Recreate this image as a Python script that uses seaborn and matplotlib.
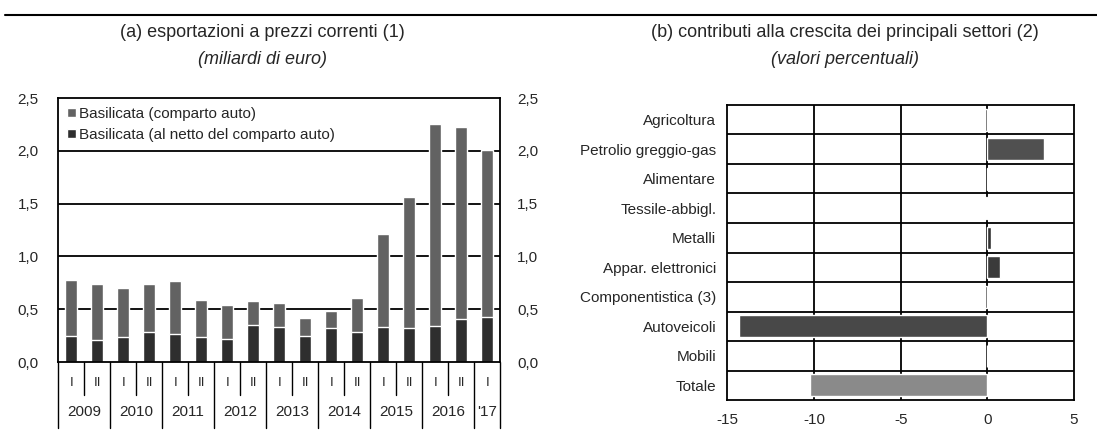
import pandas as pd
import matplotlib.pyplot as plt
import seaborn as sns

# dati pannello (a): miliardi di euro per semestre
semestri = ['I', 'II', 'I', 'II', 'I', 'II', 'I', 'II', 'I', 'II', 'I', 'II',
            'I', 'II', 'I', 'II', 'I']
anni = ['2009', '2010', '2011', '2012', '2013', '2014', '2015', '2016', "'17"]
netto_auto = [0.25, 0.21, 0.24, 0.28, 0.27, 0.24, 0.22, 0.35, 0.33, 0.25,
              0.32, 0.28, 0.33, 0.32, 0.34, 0.41, 0.43]
comparto_auto = [0.53, 0.53, 0.46, 0.46, 0.50, 0.35, 0.32, 0.23, 0.23, 0.17,
                 0.16, 0.33, 0.88, 1.24, 1.91, 1.82, 1.58]

# dati pannello (b): valori percentuali
settori = ['Agricoltura', 'Petrolio greggio-gas', 'Alimentare', 'Tessile-abbigl.',
           'Metalli', 'Appar. elettronici', 'Componentistica (3)', 'Autoveicoli',
           'Mobili', 'Totale']
contributi = [-0.12, 3.3, 0.05, -0.06, 0.22, 0.75, -0.12, -14.3, 0.0, -10.25]

sns.set_style('white')
plt.rcParams['font.family'] = ['Liberation Sans', 'DejaVu Sans']

fig = plt.figure(figsize=(10.97, 4.32), dpi=100)

# ---- pannello (a)
df = pd.DataFrame({'pos': [str(i) for i in range(len(semestri))],
                   'netto': netto_auto, 'auto': comparto_auto})
df['totale'] = df['netto'] + df['auto']

ax1 = fig.add_axes([0.053, 0.162, 0.403, 0.611])
sns.barplot(data=df, x='pos', y='totale', color='#626262', saturation=1,
            width=0.48, ax=ax1, label='Basilicata (comparto auto)')
sns.barplot(data=df, x='pos', y='netto', color='#2e2e2e', saturation=1,
            width=0.48, ax=ax1, label='Basilicata (al netto del comparto auto)')
ax1.set_xlim(-0.5, len(semestri) - 0.5)
ax1.set_ylim(0, 2.5)
ax1.set_yticks([0, 0.5, 1.0, 1.5, 2.0, 2.5])
ax1.set_yticklabels(['0,0', '0,5', '1,0', '1,5', '2,0', '2,5'], fontsize=11)
ax1.set_xticks([])
ax1.set_xlabel('')
ax1.set_ylabel('')
for y in [0.5, 1.0, 1.5, 2.0]:
    ax1.axhline(y, color='black', lw=1.3, zorder=0)
for s in ax1.spines.values():
    s.set_color('black')
    s.set_linewidth(1.3)
ax1.tick_params(axis='y', length=0, pad=14)

ax1r = ax1.twinx()
ax1r.set_ylim(0, 2.5)
ax1r.set_yticks([0, 0.5, 1.0, 1.5, 2.0, 2.5])
ax1r.set_yticklabels(['0,0', '0,5', '1,0', '1,5', '2,0', '2,5'], fontsize=11)
ax1r.tick_params(axis='y', length=0, pad=12)
for s in ax1r.spines.values():
    s.set_visible(False)

leg = ax1.legend(loc='upper left', frameon=False, fontsize=11, handlelength=0.55,
                 handleheight=0.55, handletextpad=0.2, borderaxespad=0.3,
                 labelspacing=0.45, borderpad=0.3)

# etichette asse x: semestri e anni
tr = ax1.get_xaxis_transform()
for i, s in enumerate(semestri):
    ax1.text(i, -0.08, s, transform=tr, ha='center', va='center', fontsize=9.5)
for k in range(len(semestri) + 1):
    x = k - 0.5
    lungo = (k % 2 == 0) or k == len(semestri)
    ax1.plot([x, x], [0, -0.25 if lungo else -0.125], transform=tr,
             color='black', lw=1.0, clip_on=False)
for j, a in enumerate(anni):
    xc = 2 * j + 0.5 if j < len(anni) - 1 else 2 * j
    ax1.text(xc, -0.19, a, transform=tr, ha='center', va='center', fontsize=11)

# ---- pannello (b)
db = pd.DataFrame({'settore': settori, 'valore': contributi})
colori = ['#333333', '#505050', '#333333', '#333333', '#333333', '#3a3a3a',
          '#333333', '#484848', '#333333', '#8a8a8a']
ax2 = fig.add_axes([0.663, 0.074, 0.316, 0.683])
sns.barplot(data=db, x='valore', y='settore', hue='settore', palette=colori,
            saturation=1, width=0.75, orient='h', legend=False, ax=ax2)
ax2.set_xlim(-15, 5)
ax2.set_ylim(len(settori) - 0.5, -0.5)
ax2.set_xticks([-15, -10, -5, 0, 5])
ax2.set_xticklabels(['-15', '-10', '-5', '0', '5'], fontsize=11)
ax2.set_xlabel('')
ax2.set_ylabel('')
ax2.tick_params(axis='y', length=0, labelsize=11, pad=8)
ax2.tick_params(axis='x', length=0, pad=9)
for x in [-10, -5, 0]:
    ax2.axvline(x, color='black', lw=1.3, zorder=0)
for k in range(1, len(settori)):
    ax2.axhline(k - 0.5, color='black', lw=1.3, zorder=0)
for s in ax2.spines.values():
    s.set_color('black')
    s.set_linewidth(1.3)

# titoli e filetto superiore
fig.add_artist(plt.Line2D([0.005, 1.0], [0.965, 0.965], color='black', lw=1.5))
fig.text(0.239, 0.925, '(a) esportazioni a prezzi correnti (1)', ha='center',
         va='center', fontsize=13)
fig.text(0.239, 0.862, '(miliardi di euro)', ha='center', va='center',
         fontsize=13, style='italic')
fig.text(0.77, 0.925, '(b) contributi alla crescita dei principali settori (2)',
         ha='center', va='center', fontsize=13)
fig.text(0.77, 0.862, '(valori percentuali)', ha='center', va='center',
         fontsize=13, style='italic')

plt.savefig('out.png', dpi=100)
